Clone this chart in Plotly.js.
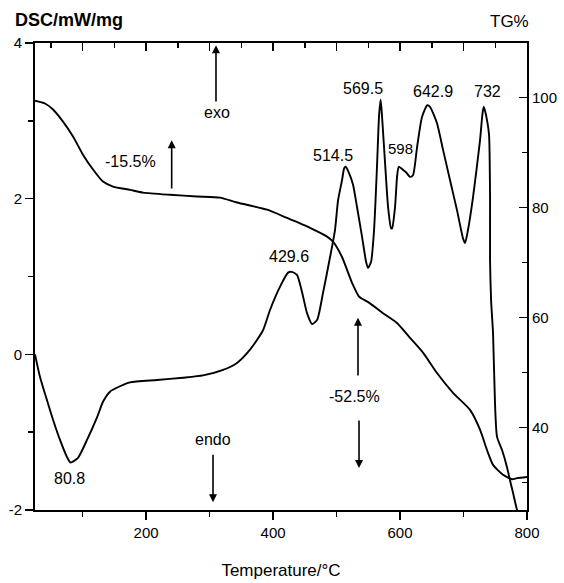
<!DOCTYPE html>
<html>
<head>
<meta charset="utf-8">
<script src="https://cdn.plot.ly/plotly-3.0.1.min.js"></script>
<style>html,body{margin:0;padding:0;background:#fff;}#chart{width:564px;height:583px;}</style>
</head>
<body>
<div id="chart"></div>
<script>
// DSC curve (left axis, mW/mg)
const dscTemp = [
  25, 32.9, 43.9, 53.4, 64.4, 75.4, 80.8, 92.7, 106.9, 122.7,
  132.1, 143.1, 158.9, 174.6, 217.2, 258.1, 289.7, 321.2, 343.2, 363.7,
  384.2, 395.2, 411.0, 423.6, 429.6, 437.7, 445.6, 453.5, 461.4, 469.3,
  478.7, 489.8, 497.6, 502.4, 508.7, 512.0, 514.5, 519.0, 526.0, 532.3,
  540.2, 546.5, 549.6, 554.4, 559.1, 563.8, 567.0, 569.5, 571.7, 576.4,
  581.2, 585.9, 587.5, 592.1, 595.5, 598.0, 604.7, 609.4, 615.8, 620.4,
  626.8, 634.6, 642.9, 647.2, 658.2, 667.7, 678.7, 689.8, 699.2, 702.4,
  707.1, 715.0, 726.0, 730.0, 732.0, 737.0, 740.2, 741.8, 741.8, 743.4,
  746.5, 749.6, 752.8, 760.7, 768.5, 773.3, 778.0, 784.3, 790
];
const dscValue = [
  0, -0.29, -0.59, -0.84, -1.10, -1.32, -1.39, -1.33, -1.10, -0.81,
  -0.61, -0.48, -0.41, -0.36, -0.33, -0.30, -0.27, -0.20, -0.11, 0.06,
  0.31, 0.57, 0.87, 1.05, 1.06, 1.02, 0.80, 0.53, 0.39, 0.44,
  0.79, 1.25, 1.60, 1.98, 2.24, 2.39, 2.41, 2.34, 2.18, 1.89,
  1.51, 1.19, 1.11, 1.19, 1.60, 2.43, 3.07, 3.27, 3.05, 2.46,
  1.89, 1.62, 1.62, 1.89, 2.30, 2.41, 2.37, 2.34, 2.28, 2.30,
  2.66, 3.05, 3.20, 3.18, 2.97, 2.63, 2.24, 1.85, 1.49, 1.43,
  1.60, 2.02, 2.75, 3.10, 3.18, 3.01, 2.82, 2.02, 1.21, 0.70,
  0.27, -0.63, -1.06, -1.23, -1.45, -1.62, -1.78, -2.00, -2.15
];
// TG curve (right axis, %)
const tgTemp = [
  25, 40.8, 53.4, 69.1, 84.9, 100.6, 116.4, 132.1, 147.9, 174.7,
  195.2, 237.7, 280.2, 316.4, 343.2, 390.5, 422.0, 458.2, 485.0, 494.4,
  508.6, 524.4, 535.4, 551.1, 571.6, 595.2, 615.7, 636.2, 658.2, 683.5,
  710.3, 726.0, 737.0, 746.5, 762.2, 776.4, 784.3, 800
];
const tgValue = [
  99.4, 98.9, 97.8, 95.6, 92.9, 89.6, 86.9, 84.7, 83.8, 83.2,
  82.7, 82.3, 82.0, 81.8, 80.9, 79.6, 78.1, 76.3, 74.7, 73.8,
  71.0, 66.3, 63.8, 62.7, 60.9, 59.0, 56.3, 53.6, 49.9, 46.3,
  43.2, 39.6, 35.9, 33.2, 31.4, 30.6, 30.8, 31.0
];
// Tick values and labels
const xTicks = [200, 400, 600, 800];
const dscTicks = [-2, 0, 2, 4];
const tgTicks = [40, 60, 80, 100];
const peakLabels = ['80.8', '429.6', '514.5', '569.5', '598', '642.9', '732'];
const massLoss = ['-15.5%', '-52.5%'];

const FONT = 'Liberation Sans, Arial, sans-serif';

const traces = [
  {x: dscTemp, y: dscValue, xaxis: 'x', yaxis: 'y', mode: 'lines',
   line: {color: '#000', width: 1.9, shape: 'spline', smoothing: 0.6}, hoverinfo: 'skip', showlegend: false},
  {x: tgTemp, y: tgValue, xaxis: 'x2', yaxis: 'y2', mode: 'lines',
   line: {color: '#000', width: 1.9, shape: 'spline', smoothing: 0.6}, hoverinfo: 'skip', showlegend: false}
];

function txt(text, x, y, size) {
  return {text: text, x: x, y: y, xref: 'x', yref: 'y', showarrow: false,
          font: {family: FONT, size: size || 16, color: '#000'}, xanchor: 'center', yanchor: 'middle'};
}
function arrow(x, yHead, yTail) {
  return {text: '', x: x, y: yHead, ax: x, ay: yTail, xref: 'x', yref: 'y', axref: 'x', ayref: 'y',
          showarrow: true, arrowhead: 2, arrowsize: 1, arrowwidth: 1.6, arrowcolor: '#000', standoff: 0, startstandoff: 0};
}

const annotations = [
  txt('exo', 311.7, 3.11),
  txt(massLoss[0], 176.2, 2.48),
  txt(peakLabels[2], 494.4, 2.56),
  txt(peakLabels[3], 541.7, 3.42),
  txt(peakLabels[4], 601.5, 2.64, 15),
  txt(peakLabels[5], 652.0, 3.38),
  txt(peakLabels[6], 737.0, 3.38),
  txt(peakLabels[1], 425.1, 1.26),
  txt(massLoss[1], 527.5, -0.54),
  txt('endo', 305.4, -1.09),
  txt(peakLabels[0], 80.1, -1.59),
  arrow(310.1, 3.97, 3.23),
  arrow(240.3, 2.75, 2.11),
  arrow(533.8, 0.47, -0.29),
  arrow(535.4, -1.46, -0.83),
  arrow(305.4, -1.90, -1.27),
  {text: '<b>DSC/mW/mg</b>', xref: 'paper', yref: 'paper', x: -0.045, y: 1.049,
   xanchor: 'left', yanchor: 'middle', showarrow: false, font: {family: FONT, size: 18, color: '#000'}},
  {text: 'TG%', xref: 'paper', yref: 'paper', x: 0.9654, y: 1.045,
   xanchor: 'center', yanchor: 'middle', showarrow: false, font: {family: FONT, size: 17, color: '#000'}}
];

const layout = {
  width: 564, height: 583,
  margin: {l: 35, r: 37, t: 43, b: 73},
  paper_bgcolor: '#fff', plot_bgcolor: '#fff',
  font: {family: FONT, size: 15, color: '#000'},
  showlegend: false,
  xaxis: {
    range: [25, 800], tickmode: 'array', tickvals: xTicks, ticktext: xTicks.map(String),
    ticks: 'outside', ticklen: 8, tickwidth: 1.5, tickcolor: '#000',
    minor: {tick0: 100, dtick: 200, ticks: 'outside', ticklen: 5, tickwidth: 1.5, tickcolor: '#000'},
    showline: true, linewidth: 2, linecolor: '#000', showgrid: false, zeroline: false,
    title: {text: 'Temperature/°C', font: {family: FONT, size: 17, color: '#000'}, standoff: 24},
    tickfont: {family: FONT, size: 15, color: '#000'}, anchor: 'y', fixedrange: true
  },
  xaxis2: {
    range: [25, 800], overlaying: 'x', side: 'top', anchor: 'y',
    tickmode: 'linear', tick0: 0, dtick: 100, ticks: 'inside', ticklen: 8, tickwidth: 1.5, tickcolor: '#000',
    minor: {tick0: 50, dtick: 100, ticks: 'inside', ticklen: 5, tickwidth: 1.5, tickcolor: '#000'},
    showticklabels: false, showline: true, linewidth: 2, linecolor: '#000', showgrid: false, zeroline: false, fixedrange: true
  },
  yaxis: {
    range: [-2, 4], tickmode: 'array', tickvals: dscTicks, ticktext: dscTicks.map(String),
    ticks: 'outside', ticklen: 8, tickwidth: 1.5, tickcolor: '#000',
    minor: {tick0: -1, dtick: 2, ticks: 'outside', ticklen: 5, tickwidth: 1.5, tickcolor: '#000'},
    showline: true, linewidth: 2, linecolor: '#000', showgrid: false, zeroline: false,
    tickfont: {family: FONT, size: 15, color: '#000'}, anchor: 'x', fixedrange: true
  },
  yaxis2: {
    range: [25, 109.9], overlaying: 'y', side: 'right', anchor: 'x',
    tickmode: 'array', tickvals: tgTicks, ticktext: tgTicks.map(String),
    ticks: 'inside', ticklen: 8, tickwidth: 1.5, tickcolor: '#000',
    minor: {tick0: 30, dtick: 20, ticks: 'inside', ticklen: 5, tickwidth: 1.5, tickcolor: '#000'},
    showline: true, linewidth: 2, linecolor: '#000', showgrid: false, zeroline: false,
    tickfont: {family: FONT, size: 15, color: '#000'}, fixedrange: true
  },
  annotations: annotations
};

Plotly.newPlot('chart', traces, layout, {staticPlot: true, displayModeBar: false});
</script>
</body>
</html>
